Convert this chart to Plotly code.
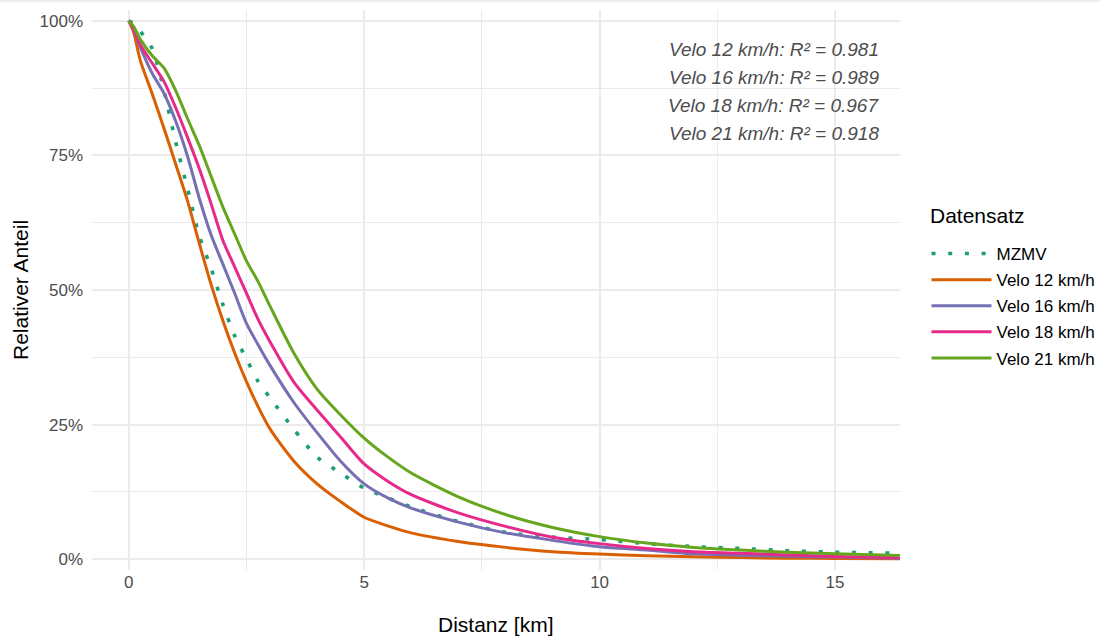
import plotly.graph_objects as go

# Distance grid [km]
distanz = [0, 0.1, 0.25, 0.5, 0.75, 1, 1.25, 1.5, 1.75, 2, 2.25, 2.5, 2.75, 3, 3.5,
           4, 4.5, 5, 5.5, 6, 7, 8, 9, 10, 11, 12, 13, 14, 15, 16.4]

mzmv = [1, 0.995, 0.98, 0.948, 0.87, 0.774, 0.688, 0.60, 0.54, 0.473, 0.415, 0.372, 0.33, 0.30, 0.242,
        0.19, 0.16, 0.132, 0.114, 0.097, 0.07, 0.05, 0.041, 0.0366, 0.029, 0.0235, 0.020, 0.0158, 0.013, 0.011]
velo12 = [1, 0.98, 0.925, 0.864, 0.80, 0.733, 0.665, 0.586, 0.51, 0.443, 0.383, 0.33, 0.283, 0.242, 0.183,
          0.14, 0.107, 0.078, 0.062, 0.049, 0.033, 0.022, 0.014, 0.0095, 0.0065, 0.0045, 0.003, 0.002, 0.0015, 0.001]
velo16 = [1, 0.985, 0.95, 0.902, 0.865, 0.813, 0.748, 0.67, 0.602, 0.548, 0.494, 0.438, 0.398, 0.36, 0.292,
          0.235, 0.182, 0.14, 0.114, 0.095, 0.069, 0.049, 0.035, 0.023, 0.017, 0.010, 0.0075, 0.0055, 0.004, 0.002]
velo18 = [1, 0.986, 0.955, 0.921, 0.887, 0.838, 0.783, 0.725, 0.66, 0.592, 0.543, 0.494, 0.445, 0.404, 0.33,
          0.277, 0.227, 0.177, 0.145, 0.12, 0.086, 0.061, 0.041, 0.029, 0.020, 0.014, 0.011, 0.008, 0.005, 0.0025]
velo21 = [1, 0.99, 0.965, 0.935, 0.912, 0.87, 0.818, 0.768, 0.711, 0.654, 0.604, 0.554, 0.515, 0.47, 0.384,
          0.316, 0.268, 0.225, 0.19, 0.16, 0.116, 0.083, 0.059, 0.042, 0.030, 0.022, 0.017, 0.013, 0.010, 0.007]

series_names = ["MZMV", "Velo 12 km/h", "Velo 16 km/h", "Velo 18 km/h", "Velo 21 km/h"]
series_values = [mzmv, velo12, velo16, velo18, velo21]
series_colors = ["#1B9E77", "#D95F02", "#7570B3", "#E7298A", "#66A61E"]

r2_labels = ["Velo 12 km/h: R² = 0.981", "Velo 16 km/h: R² = 0.989",
             "Velo 18 km/h: R² = 0.967", "Velo 21 km/h: R² = 0.918"]
r2_y = [0.946, 0.894, 0.842, 0.790]

x_ticks = [0, 5, 10, 15]
y_ticks = [0, 0.25, 0.5, 0.75, 1.0]
y_ticklabels = ["0%", "25%", "50%", "75%", "100%"]

FONT = "Liberation Sans, Arial, sans-serif"
PW, PH = 808, 560  # plot area size in px (margins fixed)

fig = go.Figure()
for name, vals, col in zip(series_names, series_values, series_colors):
    if name == "MZMV":
        line = dict(color=col, width=3.6, dash="4px,12.7px", shape="spline", smoothing=0.7)
    else:
        line = dict(color=col, width=3, shape="spline", smoothing=0.7)
    fig.add_trace(go.Scatter(x=distanz, y=vals, mode="lines", name=name, line=line,
                             legendgroup=name))

for txt, yy in zip(r2_labels, r2_y):
    fig.add_annotation(x=15.98, y=yy, xref="x", yref="y", text="<i>" + txt + "</i>",
                       showarrow=False, xanchor="right", yanchor="middle",
                       font=dict(family=FONT, size=19, color="#4D4D4D"))

fig.add_annotation(x=0.5, y=-54/PH, xref="paper", yref="paper", text="Distanz [km]",
                   showarrow=False, xanchor="center", yanchor="middle",
                   font=dict(family=FONT, size=21, color="black"))
fig.add_annotation(x=(20 - 92)/PW, y=0.5, xref="paper", yref="paper", text="Relativer Anteil",
                   showarrow=False, xanchor="center", yanchor="middle", textangle=-90,
                   font=dict(family=FONT, size=21, color="black"))
# legend title
fig.add_annotation(x=(928 - 92)/PW, y=(570 - 215)/PH, xref="paper", yref="paper", text="Datensatz",
                   showarrow=False, xanchor="left", yanchor="middle",
                   font=dict(family=FONT, size=21, color="black"))

grid = "#EBEBEB"
fig.update_layout(
    width=1100, height=636,
    margin=dict(l=92, r=200, t=10, b=66, autoexpand=False),
    paper_bgcolor="white", plot_bgcolor="white",
    font=dict(family=FONT, size=17, color="#4D4D4D"),
    showlegend=True,
    legend=dict(
        x=(926.5 - 92)/PW, xanchor="left", y=(570 - 236)/PH, yanchor="top",
        font=dict(family=FONT, size=17, color="black"),
        itemwidth=60, tracegroupgap=1,
        bgcolor="rgba(0,0,0,0)",
    ),
    xaxis=dict(range=[-0.78, 16.38], tickvals=x_ticks, ticktext=[str(t) for t in x_ticks],
               showgrid=True, gridcolor=grid, gridwidth=1.8, zeroline=False, showline=False,
               ticks="", tickfont=dict(family=FONT, size=17, color="#4D4D4D"),
               minor=dict(tickvals=[2.5, 7.5, 12.5], showgrid=True, gridcolor=grid, gridwidth=0.9)),
    yaxis=dict(range=[-0.02, 1.02], tickvals=y_ticks, ticktext=y_ticklabels,
               showgrid=True, gridcolor=grid, gridwidth=1.8, zeroline=False, showline=False,
               ticks="", ticklabelstandoff=8, tickfont=dict(family=FONT, size=17, color="#4D4D4D"),
               minor=dict(tickvals=[0.125, 0.375, 0.625, 0.875], showgrid=True, gridcolor=grid, gridwidth=0.9)),
)

fig.add_shape(type="line", xref="paper", yref="paper", x0=-92/PW, x1=1008/PW,
              y0=1 + 9/PH, y1=1 + 9/PH, line=dict(color="#EEEEEE", width=2), layer="below")

fig.write_html("out.html")
